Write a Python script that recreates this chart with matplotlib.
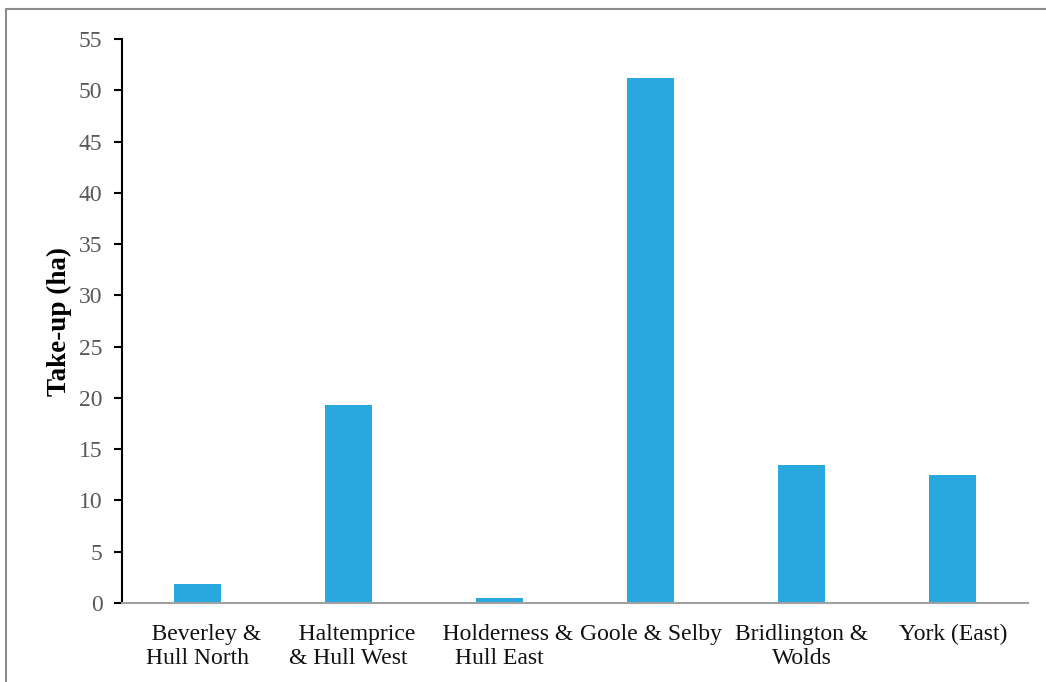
import matplotlib.pyplot as plt
from matplotlib.patches import Rectangle

# data
areas = ["   Beverley &\nHull North", "   Haltemprice\n& Hull West", "   Holderness &\nHull East",
         "Goole & Selby", "Bridlington &\nWolds", "York (East)"]
takeup = [1.85, 19.3, 0.45, 51.2, 13.5, 12.5]
yticks = list(range(0, 56, 5))

plt.rcParams['font.family'] = ['Liberation Serif', 'DejaVu Serif']

fig = plt.figure(figsize=(10.46, 6.82), dpi=100)
ax = fig.add_axes([0.1166, 0.1158, 0.8664, 0.827])

x = range(len(areas))
ax.bar(x, takeup, width=0.31, color='#29a8e0', zorder=2)

ax.set_xlim(-0.5, len(areas) - 0.5)
ax.set_ylim(0, 55)
ax.set_yticks(yticks)
ax.set_xticks(list(x))
ax.set_xticklabels(areas, fontsize=17, color='#111111', linespacing=1.22)
ax.tick_params(axis='x', length=0, pad=15)
ax.tick_params(axis='y', length=6, width=1.5, direction='out', labelsize=17,
               labelcolor='#595959', pad=8, color='black')

for s in ['top', 'right']:
    ax.spines[s].set_visible(False)
ax.spines['left'].set_linewidth(1.5)
ax.spines['left'].set_color('black')
ax.spines['bottom'].set_linewidth(1.5)
ax.spines['bottom'].set_color('#a0a0a0')

ax.set_ylabel("Take-up (ha)", fontsize=19.5, fontweight='bold', labelpad=5)

# outer frame (top and left edges visible)
fig.patches.append(Rectangle((6 / 1046, -0.1), 1.2, (682 - 9) / 682 + 0.1,
                             transform=fig.transFigure, fill=False,
                             edgecolor='#8c8c8c', linewidth=1.5))

fig.savefig("out.png", dpi=100)
